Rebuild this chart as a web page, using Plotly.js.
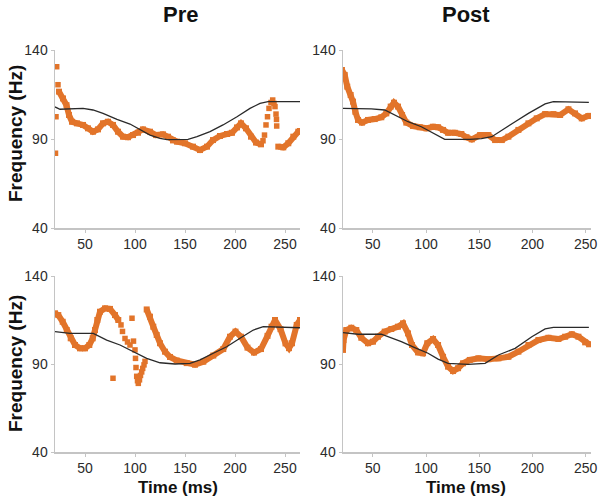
<!DOCTYPE html>
<html><head><meta charset="utf-8">
<script src="https://cdn.plot.ly/plotly-3.0.1.min.js"></script>
<style>html,body{margin:0;padding:0;background:#fff}#chart{width:600px;height:503px}</style>
</head><body><div id="chart"></div>
<script>
// ---------- data (time in ms, frequency in Hz) ----------
// Top-left: Pre (upper)
const tlBandT = [24,28,31.5,34,37,42,48,53,58,63,68,73,78,83,88,93,98,103,108,115,121,128,133,138,142,150,158,165,172,178,185,192,197,202,206,211,216,221,226];
const tlBandF = [116.6,112.8,109,103.5,99.7,98.8,97.9,96,94.1,95.4,98.8,99.7,97.9,94.1,91.3,91,92.2,93.5,95.4,94.1,92.2,92.6,91.3,89.2,88.5,87.6,85.7,83.8,85.7,89.4,91.7,92.8,93.5,96.5,98.8,96,91.3,88,87];
const tlBand2T = [243.3,248.3,253.3,258.3,263.3,265];
const tlBand2F = [85.7,85.3,87.6,91.3,94.1,94.5];
const tlDotT = [20.5,21,21.7,23,228,229.5,231,232.5,234,236,237.7,239,240,241,241.5,241.7];
const tlDotF = [82,102.5,130.6,120.5,89,92.2,97.9,102.5,107.2,110.5,111.9,110,108.2,104,101,97.3];
const tlTgtT = [20,25,48,58,68,82,95,105,115,125,132,153,162,175,188,202,215,225,233,265];
const tlTgtF = [108,106.7,107.2,106.3,104.4,101,98.4,95.1,92.2,90.4,89.6,89.8,91.3,94.1,97.9,102.5,107.2,110,111,111];

// Top-right: Post (upper)
const trBandT = [21,23.6,26,29.2,31.4,33.6,36.1,39.9,45.5,51.8,58,62.7,66.8,69.9,73.7,77.5,81.5,87.8,94.1,100.3,106.6,111.3,116,120.7,127,133.2,138,143,150.8,158.6,164.9,171.2,177.4,186.8,196.2,204,211.9,219.7,226,233.8,240,246.3,252.5,254];
const trBandF = [128.8,126,119.4,114.7,111,105.3,100.7,99.2,100.7,101.2,102.2,104.4,108.2,110.4,108.2,103.5,99.2,97.3,96.6,96,96.9,96.6,95.1,93.5,93.5,92.8,91,89.8,92.2,92.2,89.4,89.4,91.3,95.1,98.8,101.6,104,104,103.5,106.7,104.4,101.6,102.9,103];
const trTgtT = [22,48.6,61.2,70.6,83.1,95.6,108.2,117.6,141,152,161.8,171.2,183.7,196.2,211.9,219.7,253];
const trTgtF = [107.2,106.9,106.3,103.5,99.7,96.9,92.6,89.8,89.8,90.2,91.3,95.1,99.7,104.4,109.7,111,110.6];

// Bottom-left: Pre (lower)
const blBandT = [20,23.3,27.7,31.7,35.7,40,45,50,54.3,57.7,60,62.3,65,70,75,80,83.3];
const blBandF = [118.8,117.8,114,109.3,104.6,100.8,98.9,98.9,100.8,104.6,109.3,115,119.7,121.6,121.3,117.8,115];
const blBand2T = [111.7,115,118.3,121.7,125,130,135,141.7,151.7,160,168.3,178.3,188.3,195,200.5,206,212.5,219,226,232.5,236.5,240,245.5,250.5,254,257,261.7,265];
const blBand2F = [121,116.9,111.2,106.5,101.8,97,94,92,90.5,89.6,91.3,94.8,98.5,105.5,108.4,105.5,99.3,96.5,98.5,106,111.2,115,109.8,101.7,99,101.8,112.2,115];
const blDotT = [86,87.5,90,92.5,95,78,97,98.5,100,100.5,101,101.7,102.5,103.3,104.5,105.5,106.7,107.7,109,110];
const blDotF = [112.2,108.5,104.5,102.5,100.8,81.9,116,103,98,93.2,88,83,80.5,79,81,83.5,85.5,87.5,89.5,91.5];
const blTgtT = [20,35,58.3,71.7,85,98.3,111.7,125,140,155,165,178.3,191.7,205,218.3,228.3,265];
const blTgtF = [108.4,107.4,107.4,103.6,100.8,97,93.2,90.7,90,90.4,92.3,96.1,99.8,104.6,109.3,111.2,110.6];

// Bottom-right: Post (lower)
const brBandT = [22,22.5,25.1,29.8,34.5,39.2,45.5,50.2,54.9,61.2,67.4,73.7,78.4,83.1,86.8,92.5,97.2,101.2,106.6,111.3,116,120.7,125.4,130.1,134.8,141.1,149.2,158.6,168,177.4,186.8,196.2,205.6,215,224.4,230.7,237,243.2,249.5,253.2];
const brBandF = [98,103.6,109.3,110.6,109.3,104.9,101.8,102.7,105.5,108.4,109.9,111.2,113.1,107.4,100.8,96.6,96.1,101.8,104.2,100.8,94.1,88.5,86,87.6,90.4,92.3,93.2,92.7,93.2,94.1,97,100.8,103.6,104.9,104.2,105.5,106.9,105.5,102.3,101.2];
const brTgtT = [22,36.1,58,64.3,76.8,89.4,101.9,111.3,120.7,139.5,155.5,168,183.7,199.4,211.9,219.7,253];
const brTgtF = [107.8,106.9,106.9,105.5,102.7,99.3,96.1,92.8,90.4,89.8,90.4,95.1,98.9,105.5,109.9,110.8,110.8];

const yTicks = [40, 90, 140];
const xTicks = [50, 100, 150, 200, 250];
const colTitles = ['Pre', 'Post'];
const yTitle = 'Frequency (Hz)';
const xTitle = 'Time (ms)';

// ---------- styling ----------
const ORANGE = '#E2742A';
const TGT = '#2a2a2a';
const FONT = 'Liberation Sans, Arial, Helvetica, sans-serif';

function band(t, f, xa, ya) {
  return {x: t, y: f, xaxis: xa, yaxis: ya, type: 'scatter', mode: 'lines+markers',
    line: {color: ORANGE, width: 6}, marker: {color: ORANGE, size: 6, symbol: 'square'},
    hoverinfo: 'skip', showlegend: false, cliponaxis: true};
}
function dots(t, f, xa, ya) {
  return {x: t, y: f, xaxis: xa, yaxis: ya, type: 'scatter', mode: 'markers',
    marker: {color: ORANGE, size: 5.5, symbol: 'square'}, hoverinfo: 'skip', showlegend: false};
}
function target(t, f, xa, ya) {
  return {x: t, y: f, xaxis: xa, yaxis: ya, type: 'scatter', mode: 'lines',
    line: {color: TGT, width: 1.3, shape: 'linear'}, hoverinfo: 'skip', showlegend: false};
}

const data = [
  band(tlBandT, tlBandF, 'x', 'y'), band(tlBand2T, tlBand2F, 'x', 'y'), dots(tlDotT, tlDotF, 'x', 'y'),
  target(tlTgtT, tlTgtF, 'x', 'y'),
  band(trBandT, trBandF, 'x2', 'y2'), target(trTgtT, trTgtF, 'x2', 'y2'),
  band(blBandT, blBandF, 'x3', 'y3'), band(blBand2T, blBand2F, 'x3', 'y3'), dots(blDotT, blDotF, 'x3', 'y3'),
  target(blTgtT, blTgtF, 'x3', 'y3'),
  band(brBandT, brBandF, 'x4', 'y4'), target(brTgtT, brTgtF, 'x4', 'y4')
];

function xa(domain, range, anchor) {
  return {domain: domain, range: range, anchor: anchor, tickvals: xTicks, ticks: 'outside', ticklen: 3,
    tickcolor: '#c4c4c4', showline: true, linecolor: '#c4c4c4', linewidth: 1.5, showgrid: false,
    zeroline: false, tickfont: {family: FONT, size: 14, color: '#2b2b2b'}, fixedrange: true};
}
function ya(domain, anchor) {
  return {domain: domain, range: [40, 140], anchor: anchor, tickvals: yTicks, ticks: 'outside', ticklen: 3,
    tickcolor: '#c4c4c4', showline: true, linecolor: '#c4c4c4', linewidth: 1.5, showgrid: false,
    zeroline: false, tickfont: {family: FONT, size: 14, color: '#2b2b2b'}, fixedrange: true};
}
const W = 600, H = 503;
const LX = [55 / W, 300 / W], RX = [343 / W, 591 / W];
const TY = [1 - 228 / H, 1 - 50 / H], BY = [1 - 452 / H, 1 - 276 / H];

const ann = (text, px, py, size, angle) => ({text: text, xref: 'paper', yref: 'paper', x: px / W, y: 1 - py / H,
  xanchor: 'center', yanchor: 'middle', showarrow: false, textangle: angle || 0,
  font: {family: FONT, size: size, color: '#111', weight: 'bold'}});

const layout = {
  width: W, height: H, margin: {l: 0, r: 0, t: 0, b: 0},
  paper_bgcolor: '#fff', plot_bgcolor: '#fff', showlegend: false,
  xaxis: xa(LX, [20, 265], 'y'), yaxis: ya(TY, 'x'),
  xaxis2: xa(RX, [22, 255], 'y2'), yaxis2: ya(TY, 'x2'),
  xaxis3: xa(LX, [20, 265], 'y3'), yaxis3: ya(BY, 'x3'),
  xaxis4: xa(RX, [22, 255], 'y4'), yaxis4: ya(BY, 'x4'),
  annotations: [
    ann('<b>' + colTitles[0] + '</b>', 180, 14, 22),
    ann('<b>' + colTitles[1] + '</b>', 466, 14, 22),
    ann('<b>' + yTitle + '</b>', 15, 134, 19, -90),
    ann('<b>' + yTitle + '</b>', 15, 364, 19, -90),
    ann('<b>' + xTitle + '</b>', 178, 487, 17),
    ann('<b>' + xTitle + '</b>', 466, 487, 17)
  ]
};

Plotly.newPlot('chart', data, layout, {staticPlot: true, displayModeBar: false});
</script></body></html>
